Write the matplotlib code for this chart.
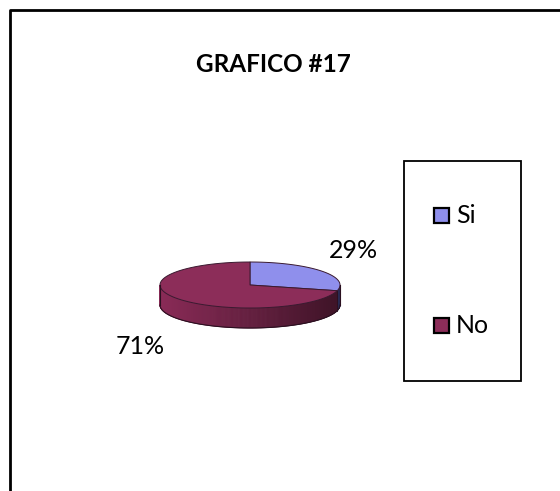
import numpy as np
import matplotlib.pyplot as plt
from matplotlib.patches import Polygon, Rectangle
from matplotlib.colors import to_rgb

plt.rcParams['font.family'] = ['Lato', 'DejaVu Sans']

categories = ['Si', 'No']
values = [29, 71]
labels = ['29%', '71%']
colors = ['#8F8FEC', '#8C2D59']
side_colors = ['#5C5CB4', '#8A2B57']
title = 'GRAFICO #17'

W, H = 560, 491
fig = plt.figure(figsize=(W / 100, H / 100), dpi=100)
ax = fig.add_axes([0, 0, 1, 1])
ax.set_xlim(0, W)
ax.set_ylim(H, 0)
ax.axis('off')

# outer frame (only top and left visible)
ax.plot([10, 10, W], [H, 9.5, 9.5], color='black', lw=2, solid_capstyle='butt')

# pie geometry
cx, cy, rx, ry, depth = 250, 285, 90, 23, 20


def pt(t):
    return cx + rx * np.cos(t), cy - ry * np.sin(t)


fracs = np.array(values) / sum(values)
start = np.pi / 2
angles = []
for f in fracs:
    end = start - f * 2 * np.pi
    angles.append((start, end))
    start = end

# side band (front half: angles between -pi and 0)
for (a1, a2), sc in zip(angles, side_colors):
    segs = []
    for off in (0, -2 * np.pi, 2 * np.pi):
        l2, h2 = max(min(a1, a2) + off, -np.pi), min(max(a1, a2) + off, 0)
        if h2 > l2:
            segs.append((l2, h2))
    base = np.array(to_rgb(sc))
    for l2, h2 in segs:
        ts = np.linspace(l2, h2, max(int((h2 - l2) * 80), 2))
        for t0, t1 in zip(ts[:-1], ts[1:]):
            x0, y0 = pt(t0)
            x1, y1 = pt(t1)
            shade = 0.45 + 0.55 * (1 - (np.cos((t0 + t1) / 2) + 1) / 2)
            c = np.clip(base * shade, 0, 1)
            ax.add_patch(Polygon([(x0, y0), (x1, y1), (x1, y1 + depth), (x0, y0 + depth)],
                                 closed=True, facecolor=c, edgecolor=c, lw=0.6))
        ts = np.linspace(l2, h2, 100)
        xs, ys = pt(ts)
        ax.plot(xs, ys + depth, color='#2a1020', lw=0.8)
# side edges
for t in (-np.pi, 0):
    x, y = pt(t)
    ax.plot([x, x], [y, y + depth], color='#2a1020', lw=0.8)
x, y = pt(angles[0][1])
ax.plot([x, x], [y, y + depth], color='#2a1020', lw=0.6)

# top face
for (a1, a2), c in zip(angles, colors):
    ts = np.linspace(a1, a2, 200)
    xs, ys = pt(ts)
    poly = [(cx, cy)] + list(zip(xs, ys))
    ax.add_patch(Polygon(poly, closed=True, facecolor=c, edgecolor='#3a1a30', lw=0.7))

# labels
label_pos = [(353, 251), (140, 347)]
for lab, (lx, ly) in zip(labels, label_pos):
    ax.text(lx, ly, lab, fontsize=18, ha='center', va='center')

ax.text(273, 64, title, fontsize=17.5, fontweight='bold', ha='center', va='center')

# legend
ax.add_patch(Rectangle((403.5, 160.5), 117, 220, facecolor='white', edgecolor='black', lw=1.3))
leg_y = [215.5, 325.5]
for cat, c, ly in zip(categories, colors, leg_y):
    ax.add_patch(Rectangle((434, ly - 7.5), 15, 15, facecolor=c, edgecolor='black', lw=1.6))
    ax.text(456, ly, cat, fontsize=18, ha='left', va='center')

fig.savefig('out.png', dpi=100)
